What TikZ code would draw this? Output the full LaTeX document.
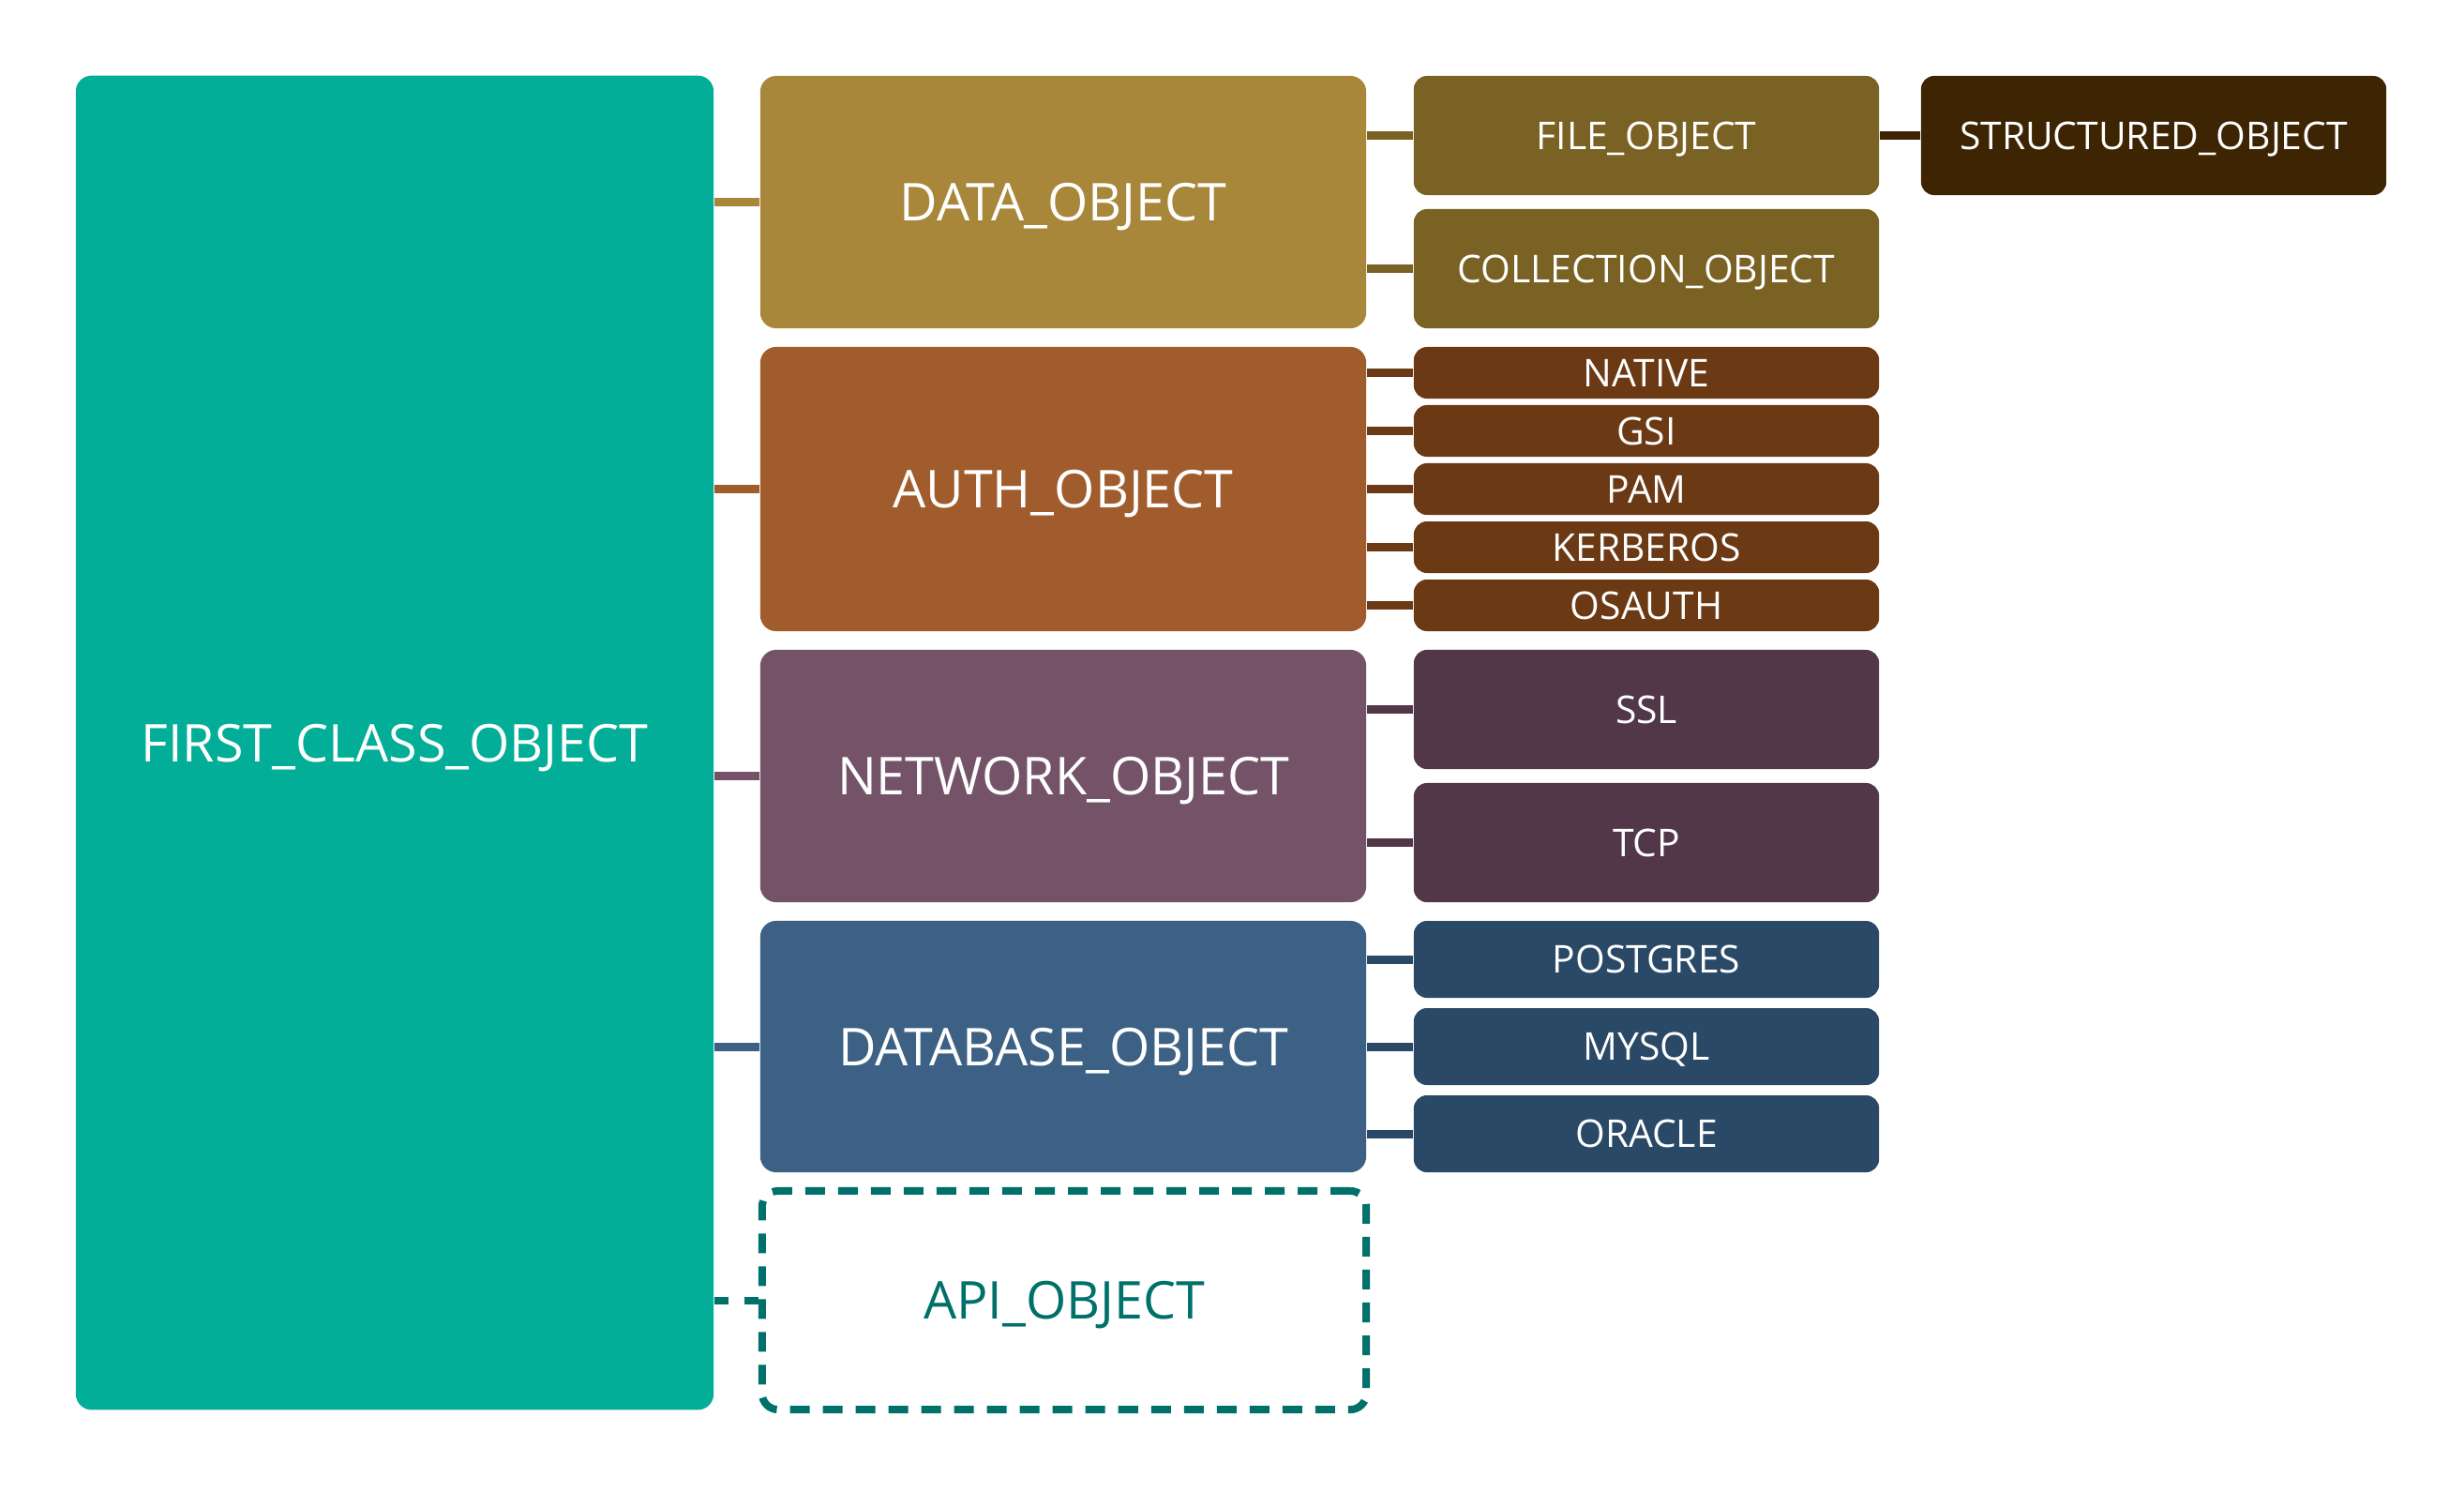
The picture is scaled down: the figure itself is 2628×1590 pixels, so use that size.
\documentclass[tikz,border=0pt]{standalone}
\usepackage{fontspec}
\setmainfont{Open Sans}
\usepackage{tikz}

% Colours of the object families
\definecolor{fcocol}{HTML}{02AE97}
\definecolor{datacol}{HTML}{A9873A}
\definecolor{datasub}{HTML}{7A6224}
\definecolor{structcol}{HTML}{3D2504}
\definecolor{authcol}{HTML}{A15C2D}
\definecolor{authsub}{HTML}{6B3A15}
\definecolor{netcol}{HTML}{745368}
\definecolor{netsub}{HTML}{523749}
\definecolor{dbcol}{HTML}{3C6185}
\definecolor{dbsub}{HTML}{2A4966}
\definecolor{apicol}{HTML}{00706A}

\begin{document}
\begin{tikzpicture}[x=0.01cm, y=-0.01cm]
        % One unit is one pixel of the page, y runs downwards
        \tikzset{
            bigbox/.style={rounded corners=0.17cm, inner sep=0pt, text=white, text depth=0pt,
                font=\fontsize{15.8}{19}\selectfont, minimum width=6.46cm},
            smallbox/.style={rounded corners=0.14cm, inner sep=0pt, text=white, text depth=0pt,
                font=\fontsize{11.6}{14}\selectfont, minimum width=4.96cm},
            link/.style={line width=0.09cm},
            apidash/.style={line width=0.08cm, dash pattern=on 0.21cm off 0.14cm},
        }

        \useasboundingbox (0, 0) rectangle (2628, 1590);

        % Root of the hierarchy
        \node[bigbox, fill=fcocol, minimum width=6.80cm, minimum height=14.22cm]
            (fco) at (421, 792) {FIRST\_CLASS\_OBJECT};

        % Second level
        \node[bigbox, fill=datacol, minimum height=2.69cm] (data) at (1134, 215.5) {DATA\_OBJECT};
        \node[bigbox, fill=authcol, minimum height=3.03cm] (auth) at (1134, 521.5) {AUTH\_OBJECT};
        \node[bigbox, fill=netcol, minimum height=2.69cm] (network) at (1134, 827.5) {NETWORK\_OBJECT};
        \node[bigbox, fill=dbcol, minimum height=2.68cm] (database) at (1134, 1116) {DATABASE\_OBJECT};
        \node[bigbox, text=apicol, draw=apicol, apidash, minimum width=6.44cm, minimum height=2.33cm]
            (api) at (1135, 1386.5) {API\_OBJECT};

        % Data objects
        \node[smallbox, fill=datasub, minimum height=1.27cm] (file) at (1756, 144.5) {FILE\_OBJECT};
        \node[smallbox, fill=datasub, minimum height=1.27cm] (collection) at (1756, 286.5) {COLLECTION\_OBJECT};
        \node[smallbox, fill=structcol, minimum height=1.27cm] (structured) at (2297, 144.5) {STRUCTURED\_OBJECT};

        % Auth schemes
        \node[smallbox, fill=authsub, minimum height=0.55cm] (native) at (1756, 397.5) {NATIVE};
        \node[smallbox, fill=authsub, minimum height=0.55cm] (gsi) at (1756, 459.5) {GSI};
        \node[smallbox, fill=authsub, minimum height=0.55cm] (pam) at (1756, 521.5) {PAM};
        \node[smallbox, fill=authsub, minimum height=0.55cm] (kerberos) at (1756, 583.5) {KERBEROS};
        \node[smallbox, fill=authsub, minimum height=0.55cm] (osauth) at (1756, 645.5) {OSAUTH};

        % Network layers
        \node[smallbox, fill=netsub, minimum height=1.27cm] (ssl) at (1756, 756.5) {SSL};
        \node[smallbox, fill=netsub, minimum height=1.27cm] (tcp) at (1756, 898.5) {TCP};

        % Database backends
        \node[smallbox, fill=dbsub, minimum height=0.82cm] (postgres) at (1756, 1023) {POSTGRES};
        \node[smallbox, fill=dbsub, minimum height=0.82cm] (mysql) at (1756, 1116) {MYSQL};
        \node[smallbox, fill=dbsub, minimum height=0.82cm] (oracle) at (1756, 1209) {ORACLE};

        % Links from the root
        \draw[link, datacol] (data.west -| fco.east) -- (data.west);
        \draw[link, authcol] (auth.west -| fco.east) -- (auth.west);
        \draw[link, netcol] (network.west -| fco.east) -- (network.west);
        \draw[link, dbcol] (database.west -| fco.east) -- (database.west);
        \draw[apicol, line width=0.08cm, dash pattern=on 0.15cm off 0.17cm] (api.west -| fco.east) -- (api.west);

        % Links to the leaves
        \draw[link, datasub] (file.west -| data.east) -- (file.west);
        \draw[link, datasub] (collection.west -| data.east) -- (collection.west);
        \draw[link, structcol] (file.east) -- (structured.west);

        \draw[link, authsub] (native.west -| auth.east) -- (native.west);
        \draw[link, authsub] (gsi.west -| auth.east) -- (gsi.west);
        \draw[link, authsub] (pam.west -| auth.east) -- (pam.west);
        \draw[link, authsub] (kerberos.west -| auth.east) -- (kerberos.west);
        \draw[link, authsub] (osauth.west -| auth.east) -- (osauth.west);

        \draw[link, netsub] (ssl.west -| network.east) -- (ssl.west);
        \draw[link, netsub] (tcp.west -| network.east) -- (tcp.west);

        \draw[link, dbsub] (postgres.west -| database.east) -- (postgres.west);
        \draw[link, dbsub] (mysql.west -| database.east) -- (mysql.west);
        \draw[link, dbsub] (oracle.west -| database.east) -- (oracle.west);
\end{tikzpicture}
\end{document}
